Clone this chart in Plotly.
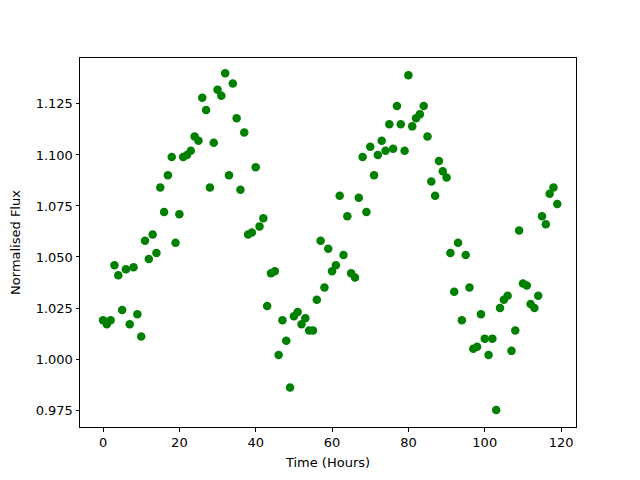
import plotly.graph_objects as go

hours = list(range(120))
flux = [
    1.019, 1.017, 1.019, 1.046, 1.041, 1.024, 1.044, 1.017, 1.045, 1.022,
    1.011, 1.058, 1.049, 1.061, 1.052, 1.084, 1.072, 1.090, 1.099, 1.057,
    1.071, 1.099, 1.100, 1.102, 1.109, 1.107, 1.128, 1.122, 1.084, 1.106,
    1.132, 1.129, 1.140, 1.090, 1.135, 1.118, 1.083, 1.111, 1.061, 1.062,
    1.094, 1.065, 1.069, 1.026, 1.042, 1.043, 1.002, 1.019, 1.009, 0.986,
    1.021, 1.023, 1.017, 1.020, 1.014, 1.014, 1.029, 1.058, 1.035, 1.054,
    1.043, 1.046, 1.080, 1.051, 1.070, 1.042, 1.040, 1.079, 1.099, 1.072,
    1.104, 1.090, 1.100, 1.107, 1.102, 1.115, 1.103, 1.124, 1.115, 1.102,
    1.139, 1.114, 1.118, 1.120, 1.124, 1.109, 1.087, 1.080, 1.097, 1.092,
    1.089, 1.052, 1.033, 1.057, 1.019, 1.051, 1.035, 1.005, 1.006, 1.022,
    1.010, 1.002, 1.010, 0.975, 1.025, 1.029, 1.031, 1.004, 1.014, 1.063,
    1.037, 1.036, 1.027, 1.025, 1.031, 1.070, 1.066, 1.081, 1.084, 1.076,
]

x_ticks = [0, 20, 40, 60, 80, 100, 120]
y_ticks = [0.975, 1.000, 1.025, 1.050, 1.075, 1.100, 1.125]
y_tick_labels = ["0.975", "1.000", "1.025", "1.050", "1.075", "1.100", "1.125"]

fig = go.Figure()
fig.add_trace(go.Scatter(
    x=hours, y=flux, mode="markers",
    marker=dict(color="#008000", size=8.5, line=dict(width=0)),
    showlegend=False,
))

axis_common = dict(
    showgrid=False, zeroline=False, showline=True, linecolor="black",
    linewidth=1, mirror=True, ticks="outside", ticklen=3.5, tickwidth=1,
    tickcolor="black", tickfont=dict(size=13, color="black"), automargin=False,
)

fig.update_layout(
    width=640, height=480,
    margin=dict(l=72, r=72, t=50, b=61),
    paper_bgcolor="white", plot_bgcolor="white",
    font=dict(family="DejaVu Sans", size=13, color="black"),
    xaxis=dict(range=[-6.03, 123.9], tickvals=x_ticks,
               title=dict(text="Time (Hours)", font=dict(size=13), standoff=8),
               **axis_common),
    yaxis=dict(range=[0.9667, 1.1475], tickvals=y_ticks, ticktext=y_tick_labels,
               title=dict(text="Normalised Flux", font=dict(size=13), standoff=12),
               **axis_common),
)

fig.write_html("out.html")
